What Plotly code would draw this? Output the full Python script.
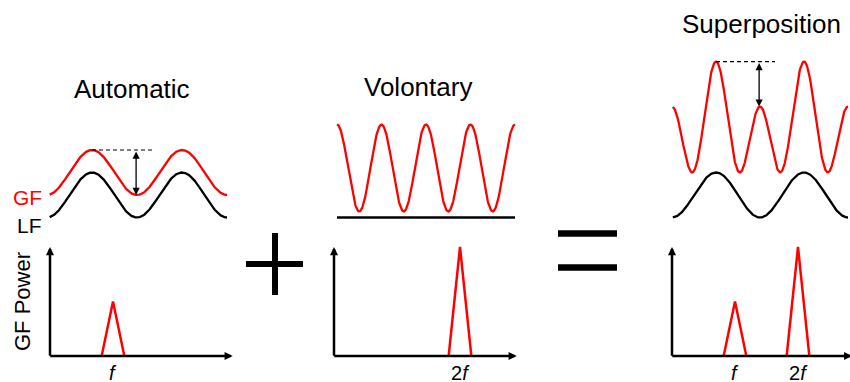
import numpy as np
import plotly.graph_objects as go

W, H = 850, 382

# panel titles
titles = ["Automatic", "Volontary", "Superposition"]

# wave parameters (amplitude units, time in LF periods)
lf_amp = [1.0, 0.0, 1.0]
lf_level = [0.0, -1.0, 0.0]
gf_amp_f = [1.0, 0.0, 1.0]
gf_amp_2f = [0.0, 1.93, 1.93]
gf_level = [1.0, 1.2, 3.0]
t_start = [-0.47, 0.0, -0.49]
t_end = [1.5, 2.0, 1.5]
show_diff = [True, False, True]

# GF power spectra (frequency in units of f)
spec_freq = [[1], [2], [1, 2]]
spec_power = [[1.0], [2.0], [1.0, 2.0]]
spec_labels = [["<i>f</i>"], ["2<i>f</i>"], ["<i>f</i>", "2<i>f</i>"]]
peak_halfwidth = 0.18
axis_top = 2.0

FONT = "Arial, Liberation Sans, sans-serif"
RED = "#ff0000"


def px_x(p):
    return p / W


def px_y(p):
    return 1 - p / H


# layout geometry (pixels)
top_origin = [92, 337, 716]
top_ppu = [90, 89, 88]
top_range = [[-0.6, 1.6], [-0.1, 2.1], [-0.6, 1.52]]
top_y0, top_ppy, top_yr = 195, 22.5, [-1.6, 7.0]

bot_origin = [50, 334, 672]
bot_ppu = 63
bot_range = [[-0.3, 3.0], [-0.3, 3.0], [-0.3, 2.82]]
bot_y0, bot_ppy, bot_yr = 356, 54.5, [-0.3, 2.2]
x_axis_end = [2.9, 2.9, 2.86]


def gf_wave(i, t):
    return gf_level[i] + gf_amp_f[i] * np.cos(2 * np.pi * t) + gf_amp_2f[i] * np.cos(4 * np.pi * t)


fig = go.Figure()
layout = {}
annotations = []

for i in range(3):
    tn = str(i + 1)
    bn = str(i + 4)
    lo, hi = top_range[i]
    layout["xaxis" + tn] = dict(
        domain=[px_x(top_origin[i] + lo * top_ppu[i]), px_x(top_origin[i] + hi * top_ppu[i])],
        range=[lo, hi], visible=False, anchor="y" + tn)
    layout["yaxis" + tn] = dict(
        domain=[px_y(top_y0 - top_yr[0] * top_ppy), px_y(top_y0 - top_yr[1] * top_ppy)],
        range=top_yr, visible=False, anchor="x" + tn)
    lo, hi = bot_range[i]
    layout["xaxis" + bn] = dict(
        domain=[px_x(bot_origin[i] + lo * bot_ppu), px_x(bot_origin[i] + hi * bot_ppu)],
        range=[lo, hi], visible=False, anchor="y" + bn)
    layout["yaxis" + bn] = dict(
        domain=[px_y(bot_y0 - bot_yr[0] * bot_ppy), px_y(bot_y0 - bot_yr[1] * bot_ppy)],
        range=bot_yr, visible=False, anchor="x" + bn)

    # waves
    t = np.linspace(t_start[i], t_end[i], 400)
    lf = lf_level[i] + lf_amp[i] * np.cos(2 * np.pi * t)
    fig.add_trace(go.Scatter(x=t, y=lf, mode="lines", line=dict(color="black", width=2.3),
                             xaxis="x" + tn, yaxis="y" + tn, showlegend=False))
    fig.add_trace(go.Scatter(x=t, y=gf_wave(i, t), mode="lines", line=dict(color=RED, width=2.3),
                             xaxis="x" + tn, yaxis="y" + tn, showlegend=False))

    if show_diff[i]:
        top = gf_wave(i, 0.0)
        low = gf_wave(i, 0.5)
        fig.add_trace(go.Scatter(x=[0.0, 0.67], y=[top, top], mode="lines",
                                 line=dict(color="black", width=1.1, dash="4px,3px"),
                                 xaxis="x" + tn, yaxis="y" + tn, showlegend=False))
        annotations.append(dict(x=0.49, y=low, ax=0.49, ay=top, xref="x" + tn, yref="y" + tn,
                                axref="x" + tn, ayref="y" + tn, text="", showarrow=True,
                                arrowhead=2, startarrowhead=2, arrowside="end+start",
                                arrowsize=1.1, startarrowsize=1.1, arrowwidth=1.3,
                                arrowcolor="black"))

    # spectra
    for f, p in zip(spec_freq[i], spec_power[i]):
        fig.add_trace(go.Scatter(x=[f - peak_halfwidth, f, f + peak_halfwidth], y=[0, p, 0],
                                 mode="lines", line=dict(color=RED, width=2.5),
                                 xaxis="x" + bn, yaxis="y" + bn, showlegend=False))
    for f, lab in zip(spec_freq[i], spec_labels[i]):
        annotations.append(dict(x=f, y=0, xref="x" + bn, yref="y" + bn, text=lab,
                                showarrow=False, yanchor="top", yshift=-4,
                                font=dict(family=FONT, size=20, color="black")))
    # axes with arrows
    annotations.append(dict(x=x_axis_end[i], y=0, ax=-0.02, ay=0, xref="x" + bn, yref="y" + bn,
                            axref="x" + bn, ayref="y" + bn, text="", showarrow=True,
                            arrowhead=2, arrowsize=0.65, arrowwidth=2.5, arrowcolor="black"))
    annotations.append(dict(x=0, y=axis_top, ax=0, ay=-0.025, xref="x" + bn, yref="y" + bn,
                            axref="x" + bn, ayref="y" + bn, text="", showarrow=True,
                            arrowhead=2, arrowsize=0.65, arrowwidth=2.5, arrowcolor="black"))

# titles
title_pos = [(132, 89), (418, 87), (761, 24)]
for name, (tx, ty) in zip(titles, title_pos):
    annotations.append(dict(x=px_x(tx), y=px_y(ty), xref="paper", yref="paper", text=name,
                            showarrow=False, xanchor="center", yanchor="middle",
                            font=dict(family=FONT, size=26, color="black")))

annotations += [
    dict(x=px_x(44), y=px_y(197.5), xref="paper", yref="paper", text="GF", showarrow=False,
         xanchor="right", yanchor="middle", font=dict(family=FONT, size=21, color=RED)),
    dict(x=px_x(44), y=px_y(225), xref="paper", yref="paper", text="LF", showarrow=False,
         xanchor="right", yanchor="middle", font=dict(family=FONT, size=21, color="black")),
    dict(x=px_x(22), y=px_y(302), xref="paper", yref="paper", text="GF Power", showarrow=False,
         textangle=-90, xanchor="center", yanchor="middle",
         font=dict(family=FONT, size=22, color="black")),
]

# plus and equals signs
shapes = [
    dict(type="line", xref="paper", yref="paper", x0=px_x(275), x1=px_x(275),
         y0=px_y(233), y1=px_y(295), line=dict(color="black", width=6)),
    dict(type="line", xref="paper", yref="paper", x0=px_x(246), x1=px_x(303),
         y0=px_y(264), y1=px_y(264), line=dict(color="black", width=6)),
    dict(type="line", xref="paper", yref="paper", x0=px_x(558), x1=px_x(617),
         y0=px_y(233.5), y1=px_y(233.5), line=dict(color="black", width=6.5)),
    dict(type="line", xref="paper", yref="paper", x0=px_x(558), x1=px_x(617),
         y0=px_y(267.5), y1=px_y(267.5), line=dict(color="black", width=6.5)),
]

fig.update_layout(**layout)
fig.update_layout(width=W, height=H, margin=dict(l=0, r=0, t=0, b=0),
                  paper_bgcolor="white", plot_bgcolor="white",
                  annotations=annotations, shapes=shapes, showlegend=False)

# the page body has a default 8px margin; remove it so the figure fills the window
fig.write_html("out.html", config={"displayModeBar": False},
               post_script="document.body.style.margin='0';")
